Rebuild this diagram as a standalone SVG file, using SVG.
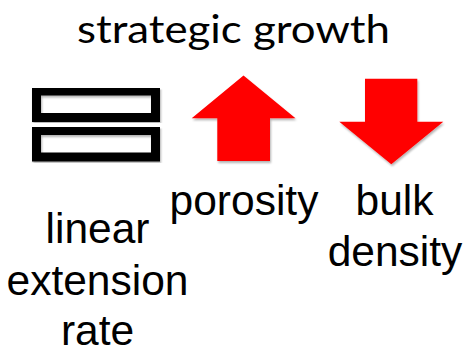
<svg xmlns="http://www.w3.org/2000/svg" width="472" height="354" viewBox="0 0 472 354">
<style>
.lbl{font-family:"Liberation Sans",Arial,sans-serif;font-size:42.5px;fill:#000;text-anchor:middle}
.ttl{font-family:Lato,"Open Sans",sans-serif;font-size:39px;fill:#000;text-anchor:middle}
.bar{fill:none;stroke:#000;stroke-width:9}
.arr{fill:#ff0000}
</style>
<defs>
<filter id="sh" x="-10%" y="-10%" width="130%" height="130%">
<feGaussianBlur in="SourceAlpha" stdDeviation="1.2"/>
<feOffset dx="0.5" dy="1.5" result="b"/>
<feComponentTransfer><feFuncA type="linear" slope="0.3"/></feComponentTransfer>
<feMerge><feMergeNode/><feMergeNode in="SourceGraphic"/></feMerge>
</filter>
</defs>
<rect width="472" height="354" fill="#fff"/>
<g id="title"><text class="ttl" x="233.5" y="43" textLength="313" lengthAdjust="spacingAndGlyphs">strategic growth</text></g>
<g id="equal">
<rect class="bar" x="36.5" y="91" width="119" height="26.5" filter="url(#sh)"/>
<rect class="bar" x="36.5" y="130.5" width="119" height="26.5" filter="url(#sh)"/>
</g>
<g id="up-arrow"><polygon class="arr" filter="url(#sh)" points="243.5,75.5 295.5,118.3 270,118.3 270,161 217.3,161 217.3,118.3 191.7,118.3"/></g>
<g id="down-arrow"><polygon class="arr" filter="url(#sh)" points="365,78.7 417.3,78.7 417.3,121.7 443.3,121.7 391.3,164.3 339.3,121.7 365,121.7"/></g>
<g id="linear-extension-rate">
<text class="lbl" x="97.5" y="243">linear</text>
<text class="lbl" x="97.5" y="295">extension</text>
<text class="lbl" x="97.5" y="345">rate</text>
</g>
<g id="porosity"><text class="lbl" x="244" y="215">porosity</text></g>
<g id="bulk-density">
<text class="lbl" x="394.5" y="215">bulk</text>
<text class="lbl" x="395" y="266">density</text>
</g>
</svg>
